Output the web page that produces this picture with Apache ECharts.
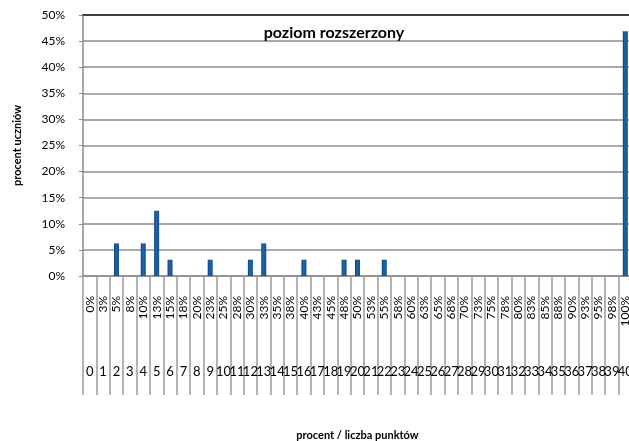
<!DOCTYPE html>
<html>
<head>
<meta charset="utf-8">
<script src="https://cdn.jsdelivr.net/npm/echarts@6/dist/echarts.min.js"></script>
<style>
html,body{margin:0;padding:0;background:#fff;}
#chart{width:629px;height:441px;}
</style>
</head>
<body>
<div id="chart"></div>
<script>
// tick labels (percent of max points, rounded) and points
const pctLabels = ["0%","3%","5%","8%","10%","13%","15%","18%","20%","23%","25%","28%","30%","33%","35%","38%","40%","43%","45%","48%","50%","53%","55%","58%","60%","63%","65%","68%","70%","73%","75%","78%","80%","83%","85%","88%","90%","93%","95%","98%","100%"];
const points = ["0","1","2","3","4","5","6","7","8","9","10","11","12","13","14","15","16","17","18","19","20","21","22","23","24","25","26","27","28","29","30","31","32","33","34","35","36","37","38","39","40"];
// percent of students per score
const studentPct = [0,0,6.25,0,6.25,12.5,3.125,0,0,3.125,0,0,3.125,6.25,0,0,3.125,0,0,3.125,3.125,0,3.125,0,0,0,0,0,0,0,0,0,0,0,0,0,0,0,0,0,46.875];

const font = 'Lato, "DejaVu Sans", sans-serif';
const chart = echarts.init(document.getElementById('chart'));
chart.setOption({
  animation: false,
  textStyle: {fontFamily: font, color: '#000'},
  title: {
    text: 'poziom rozszerzony',
    left: 329, top: 20, textAlign: 'center',
    textStyle: {fontFamily: font, fontSize: 16, fontWeight: 'bold', color: '#000'}
  },
  grid: {left: 83, right: -3, top: 15, bottom: 165, outerBoundsMode: 'none', containLabel: false},
  xAxis: [{
    type: 'category',
    data: pctLabels,
    position: 'bottom',
    axisLine: {lineStyle: {color: '#8a8a8a', width: 1.5}},
    axisTick: {show: true, length: 119, interval: 0, lineStyle: {color: '#9a9a9a', width: 1.5}},
    axisLabel: {interval: 0, rotate: 90, margin: 20, fontSize: 12, color: '#000', fontFamily: font}
  }, {
    type: 'category',
    data: points,
    position: 'bottom',
    offset: 89,
    axisLine: {show: false},
    axisTick: {show: false},
    axisLabel: {interval: 0, margin: 0, fontSize: 13, color: '#000', fontFamily: font},
    name: 'procent / liczba punktów',
    nameLocation: 'middle',
    nameGap: 65,
    nameTextStyle: {fontSize: 11, fontWeight: 'bold', color: '#000', fontFamily: font}
  }, {
    type: 'category',
    data: points,
    position: 'top',
    axisLine: {lineStyle: {color: '#404040', width: 2}},
    axisTick: {show: false},
    axisLabel: {show: false}
  }],
  yAxis: {
    type: 'value',
    min: 0, max: 50, interval: 5,
    name: 'procent uczniów',
    nameLocation: 'middle',
    nameGap: 60,
    nameTextStyle: {fontSize: 11, fontWeight: 'bold', color: '#000', fontFamily: font},
    axisLine: {show: true, lineStyle: {color: '#8a8a8a', width: 1.5}},
    axisTick: {show: true, length: 4, lineStyle: {color: '#8a8a8a'}},
    axisLabel: {formatter: '{value}%', margin: 18, fontSize: 12, color: '#000', fontFamily: font},
    splitLine: {lineStyle: {color: '#8c8c8c', width: 1.5}}
  },
  series: [{
    type: 'bar',
    data: studentPct,
    xAxisIndex: 0,
    barWidth: 5,
    itemStyle: {
      color: new echarts.graphic.LinearGradient(0, 0, 1, 0, [
        {offset: 0, color: '#0e3f73'},
        {offset: 0.4, color: '#1f67ad'},
        {offset: 1, color: '#144f8c'}
      ])
    }
  }]
});
</script>
</body>
</html>
